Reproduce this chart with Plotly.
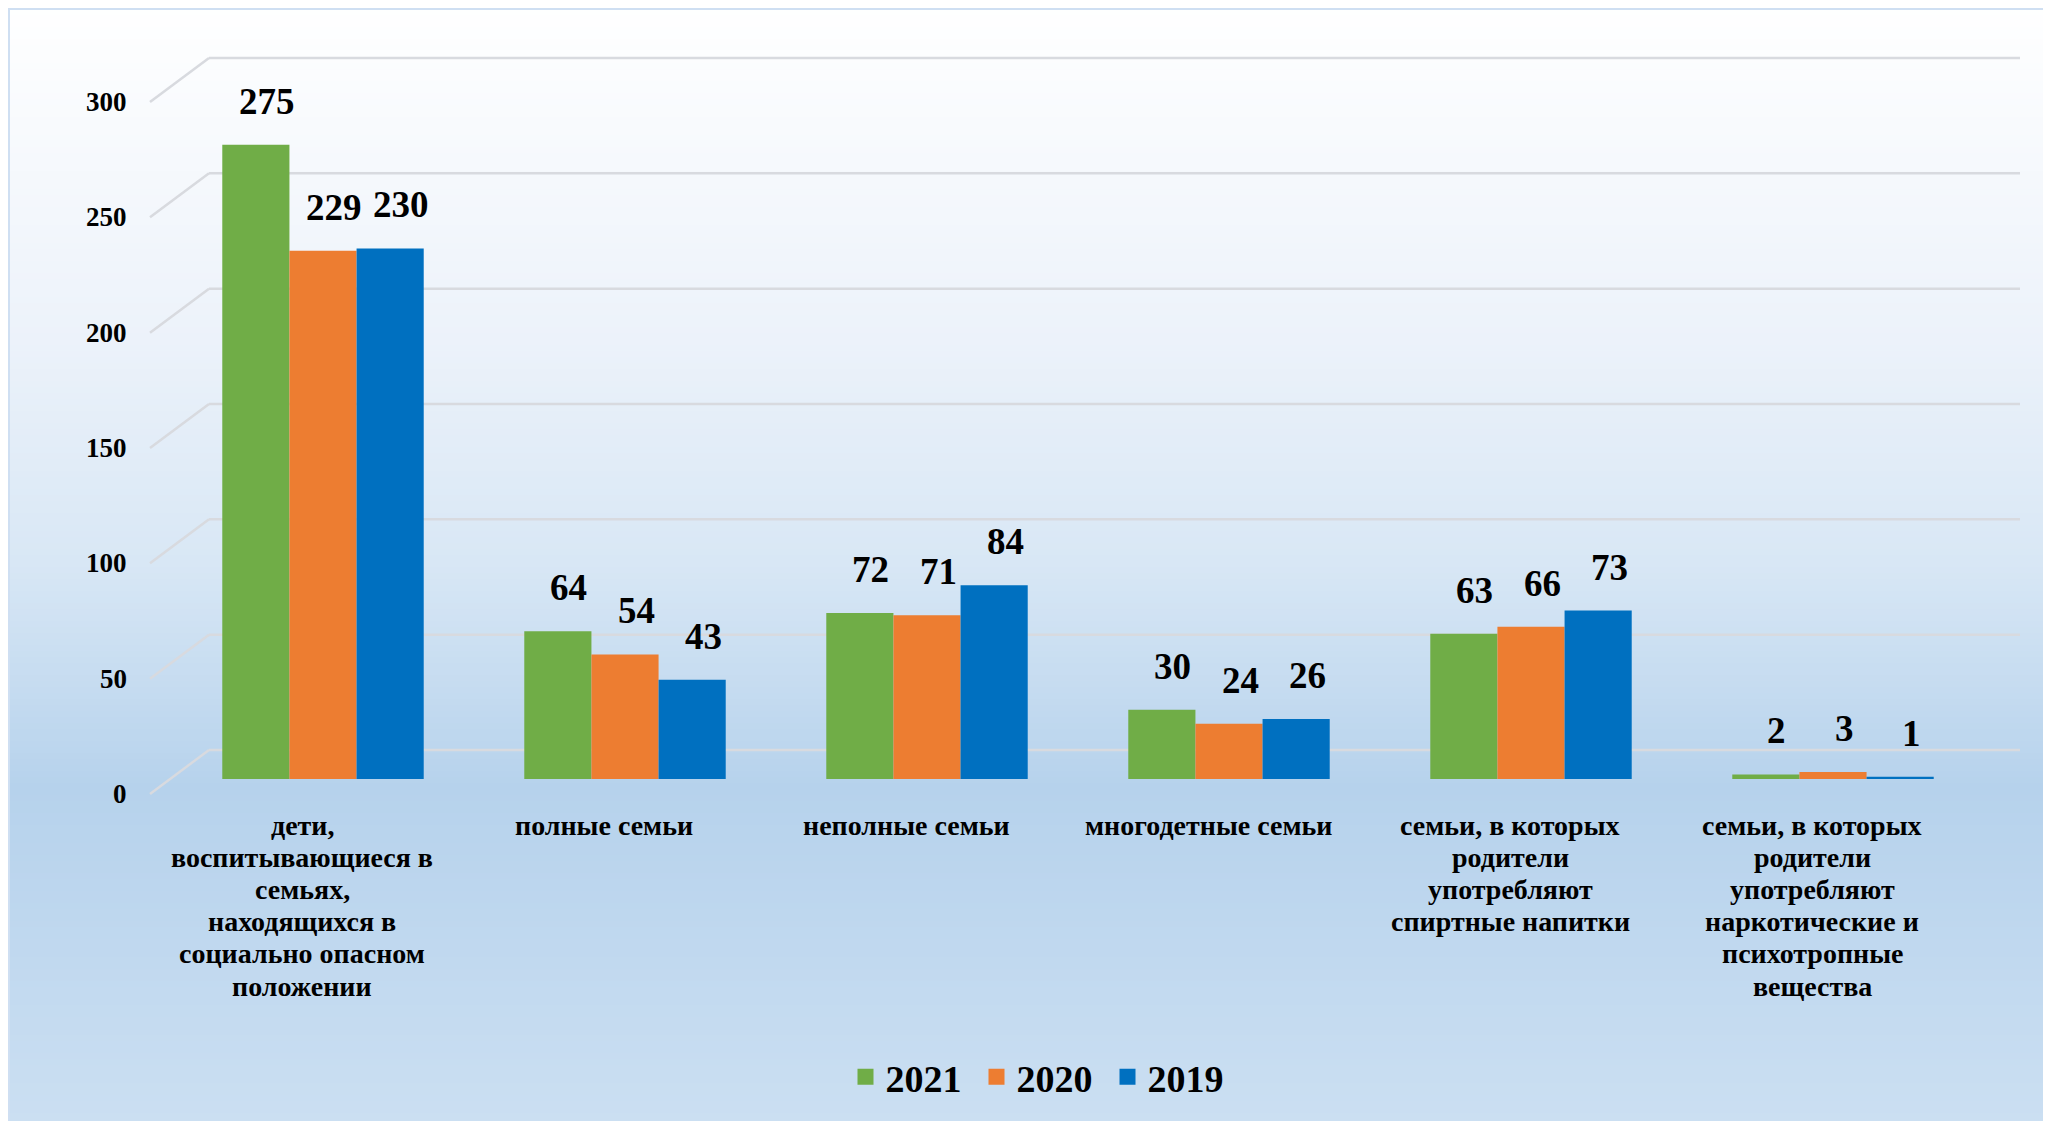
import plotly.graph_objects as go

categories = [
    "дети,<br>воспитывающиеся в<br>семьях,<br>находящихся в<br>социально опасном<br>положении",
    "полные семьи",
    "неполные семьи",
    "многодетные семьи",
    "семьи, в которых<br>родители<br>употребляют<br>спиртные напитки",
    "семьи, в которых<br>родители<br>употребляют<br>наркотические и<br>психотропные<br>вещества",
]
years = ["2021", "2020", "2019"]
values_2021 = [275, 64, 72, 30, 63, 2]
values_2020 = [229, 54, 71, 24, 66, 3]
values_2019 = [230, 43, 84, 26, 73, 1]
colors = ["#70ad47", "#ed7d31", "#0070c0"]
y_ticks = [0, 50, 100, 150, 200, 250, 300]
Y_MAX = 300

# page body has an 8px margin, so figure coords = screen coords - 8
W, H = 2051, 1121
L, R, T, B = 164, 75, 79, 350
PW, PH = W - L - R, H - T - B

FONT = "Liberation Serif"
BARGAP = 0.333
idx = list(range(len(categories)))
series = [values_2021, values_2020, values_2019]
bw = (1 - BARGAP) / len(series)

fig = go.Figure()
annotations = []
for k, (name, vals, col) in enumerate(zip(years, series, colors)):
    fig.add_trace(go.Bar(
        name=name, x=idx, y=vals, legendgroup=name, showlegend=False,
        marker=dict(color=col, line=dict(width=0)),
        cliponaxis=False,
    ))
    # legend entry with a larger square swatch
    fig.add_trace(go.Scatter(
        name=name, x=[None], y=[None], mode="markers", legendgroup=name,
        marker=dict(symbol="square", size=16, color=col), showlegend=True,
    ))
    for i, v in zip(idx, vals):
        annotations.append(dict(
            x=i + (k - 1) * bw, y=v, xref="x", yref="y", text=str(v),
            showarrow=False, xanchor="center", yanchor="bottom",
            xshift=11, yshift=21,
            font=dict(family=FONT, size=37, color="black", weight="bold"),
        ))

# y tick labels (slightly below their floor level, as in the reference)
for t in y_ticks:
    annotations.append(dict(
        x=0, y=t, xref="paper", yref="y", text=str(t), showarrow=False,
        xanchor="right", yanchor="middle", xshift=-43, yshift=-15,
        font=dict(family=FONT, size=27, color="black", weight="bold"),
    ))

# category labels, one annotation per line for tighter line spacing
LINE = 32.2
for i, cat in zip(idx, categories):
    for j, line in enumerate(cat.split("<br>")):
        annotations.append(dict(
            x=i, y=0, xref="x", yref="paper", text=line, showarrow=False,
            xanchor="center", yanchor="middle", xshift=-21, yshift=-(46 + LINE * j),
            font=dict(family=FONT, size=28, color="black", weight="bold"),
        ))

# background gradient (white -> light blue)
stops = [(0.0, (255, 255, 255)), (0.30, (236, 242, 250)), (0.50, (216, 231, 245)),
         (0.70, (182, 210, 236)), (1.0, (203, 223, 242))]

def col_at(f):
    for (f0, c0), (f1, c1) in zip(stops[:-1], stops[1:]):
        if f0 <= f <= f1:
            t = (f - f0) / (f1 - f0)
            return "rgb(%d,%d,%d)" % tuple(round(a + (b - a) * t) for a, b in zip(c0, c1))
    return "rgb(%d,%d,%d)" % stops[-1][1]

shapes = []
step = 6
x0p = (0 - L) / PW
x1p = (W - L) / PW
for ypx in range(1, H, step):
    f = min((ypx + 8) / H, 1.0)
    shapes.append(dict(type="rect", xref="paper", yref="paper", layer="below",
                       x0=x0p, x1=x1p,
                       y0=(H - B - ypx) / PH, y1=(H - B - min(ypx + step + 1, H)) / PH,
                       fillcolor=col_at(f), line=dict(width=0)))
# frame border
shapes.append(dict(type="line", xref="paper", yref="paper", layer="below",
                   x0=x0p, x1=x1p, y0=(H - B - 1) / PH, y1=(H - B - 1) / PH,
                   line=dict(color="#cfdff2", width=2)))
shapes.append(dict(type="line", xref="paper", yref="paper", layer="below",
                   x0=(1 - L) / PW, x1=(1 - L) / PW, y0=(H - B - 1) / PH, y1=(H - B - H) / PH,
                   line=dict(color="#cfdff2", width=2)))

# perspective gridlines: short diagonal from the tick level to the back wall line
GRID = "#d8dadf"
gx_front = (142 - L) / PW
gx_back = (201 - L) / PW
gx_end = (2012 - L) / PW
for t in y_ticks:
    yp = t / Y_MAX
    shapes.append(dict(type="line", xref="paper", yref="paper", layer="below",
                       ysizemode="pixel", yanchor=yp, x0=gx_front, x1=gx_back, y0=-15, y1=29,
                       line=dict(color=GRID, width=2.5)))
    shapes.append(dict(type="line", xref="paper", yref="paper", layer="below",
                       ysizemode="pixel", yanchor=yp, x0=gx_back, x1=gx_end, y0=29, y1=29,
                       line=dict(color=GRID, width=2.5)))

fig.update_layout(
    width=W, height=H,
    margin=dict(l=L, r=R, t=T, b=B, pad=0),
    paper_bgcolor="white", plot_bgcolor="rgba(0,0,0,0)",
    barmode="group", bargap=BARGAP, bargroupgap=0,
    shapes=shapes, annotations=annotations,
    font=dict(family=FONT, color="black"),
    showlegend=True,
    legend=dict(orientation="h", x=(1034 - L) / PW, xanchor="center",
                y=(H - B - 1069) / PH, yanchor="middle",
                font=dict(family=FONT, size=38, color="black", weight="bold"),
                bgcolor="rgba(0,0,0,0)", traceorder="normal", itemwidth=30,
                entrywidth=86),
)
fig.update_xaxes(
    range=[-0.5, len(categories) - 0.5],
    tickvals=idx, showticklabels=False,
    showgrid=False, showline=False, zeroline=False, ticks="",
)
fig.update_yaxes(
    range=[0, Y_MAX], tickvals=y_ticks, showticklabels=False,
    showgrid=False, zeroline=False, showline=False, ticks="",
)

fig.write_html("out.html")
